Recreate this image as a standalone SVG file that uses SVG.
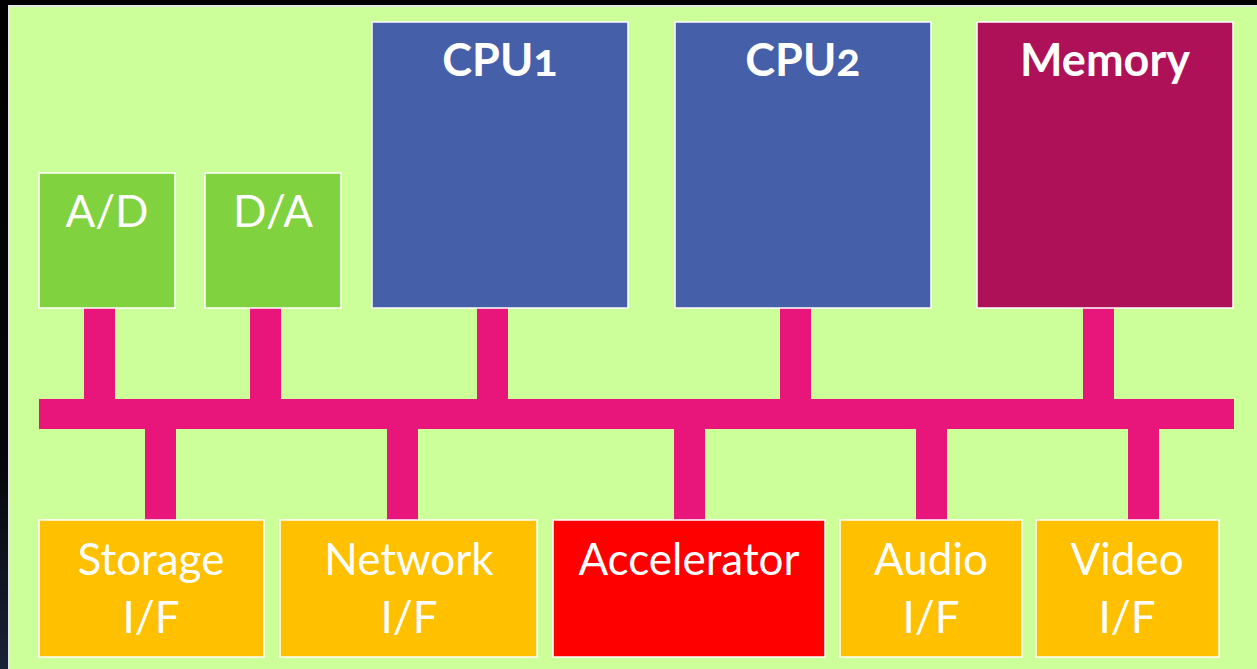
<svg xmlns="http://www.w3.org/2000/svg" width="1257" height="669" viewBox="0 0 1257 669">
  <defs>
    <linearGradient id="bg" x1="0" y1="0" x2="0" y2="1">
      <stop offset="0" stop-color="#000000"/>
      <stop offset="0.7" stop-color="#05070c"/>
      <stop offset="1" stop-color="#1a2236"/>
    </linearGradient>
    <style>
      .box { stroke: #ffffff; stroke-width: 1.5; }
      .ad { fill: #80d23e; }
      .cpu { fill: #4560a8; }
      .mem { fill: #ae1157; }
      .io { fill: #ffc000; }
      .acc { fill: #ff0000; }
      .bus { fill: #e8167a; }
      .lbl { font-family: Lato, "Open Sans", "Liberation Sans", sans-serif; font-size: 44px; fill: #ffffff; text-anchor: middle; font-variant-numeric: oldstyle-nums; font-feature-settings: "onum"; }
      .b { font-weight: bold; font-size: 45px; }
    </style>
  </defs>

  <!-- backdrop and panel -->
  <rect x="0" y="0" width="1257" height="669" fill="url(#bg)"/>
  <rect x="9" y="6" width="1260" height="670" fill="#ccff99" stroke="#e6e6e6" stroke-width="2"/>

  <!-- bus and stubs -->
  <g id="connectors" class="bus">
    <rect x="39" y="399" width="1195" height="30"/>
    <rect x="84" y="308" width="31" height="92"/>
    <rect x="250" y="308" width="31" height="92"/>
    <rect x="477" y="308" width="31" height="92"/>
    <rect x="780" y="308" width="31" height="92"/>
    <rect x="1083" y="308" width="31" height="92"/>
    <rect x="145" y="428" width="31" height="93"/>
    <rect x="387" y="428" width="31" height="93"/>
    <rect x="674" y="428" width="31" height="93"/>
    <rect x="916" y="428" width="31" height="93"/>
    <rect x="1128" y="428" width="31" height="93"/>
  </g>

  <g id="ad">
    <rect class="box ad" x="39" y="173" width="136" height="135"/>
    <text class="lbl" x="107" y="227">A/D</text>
  </g>
  <g id="da">
    <rect class="box ad" x="205" y="173" width="136" height="135"/>
    <text class="lbl" x="273" y="227">D/A</text>
  </g>
  <g id="cpu1">
    <rect class="box cpu" x="372" y="22" width="256" height="286"/>
    <text class="lbl b" x="500" y="76">CPU1</text>
  </g>
  <g id="cpu2">
    <rect class="box cpu" x="675" y="22" width="256" height="286"/>
    <text class="lbl b" x="803" y="76">CPU2</text>
  </g>
  <g id="memory">
    <rect class="box mem" x="977" y="22" width="256" height="286"/>
    <text class="lbl b" x="1105" y="76">Memory</text>
  </g>

  <g id="storage">
    <rect class="box io" x="39" y="520" width="225" height="137"/>
    <text class="lbl" x="151" y="575">Storage</text>
    <text class="lbl" x="151" y="633">I/F</text>
  </g>
  <g id="network">
    <rect class="box io" x="280" y="520" width="257" height="137"/>
    <text class="lbl" x="409" y="575">Network</text>
    <text class="lbl" x="409" y="633">I/F</text>
  </g>
  <g id="accelerator">
    <rect class="box acc" x="553" y="520" width="272" height="137"/>
    <text class="lbl" x="689" y="575">Accelerator</text>
  </g>
  <g id="audio">
    <rect class="box io" x="840" y="520" width="182" height="137"/>
    <text class="lbl" x="931" y="575">Audio</text>
    <text class="lbl" x="931" y="633">I/F</text>
  </g>
  <g id="video">
    <rect class="box io" x="1036" y="520" width="183" height="137"/>
    <text class="lbl" x="1127" y="575">Video</text>
    <text class="lbl" x="1127" y="633">I/F</text>
  </g>
</svg>
